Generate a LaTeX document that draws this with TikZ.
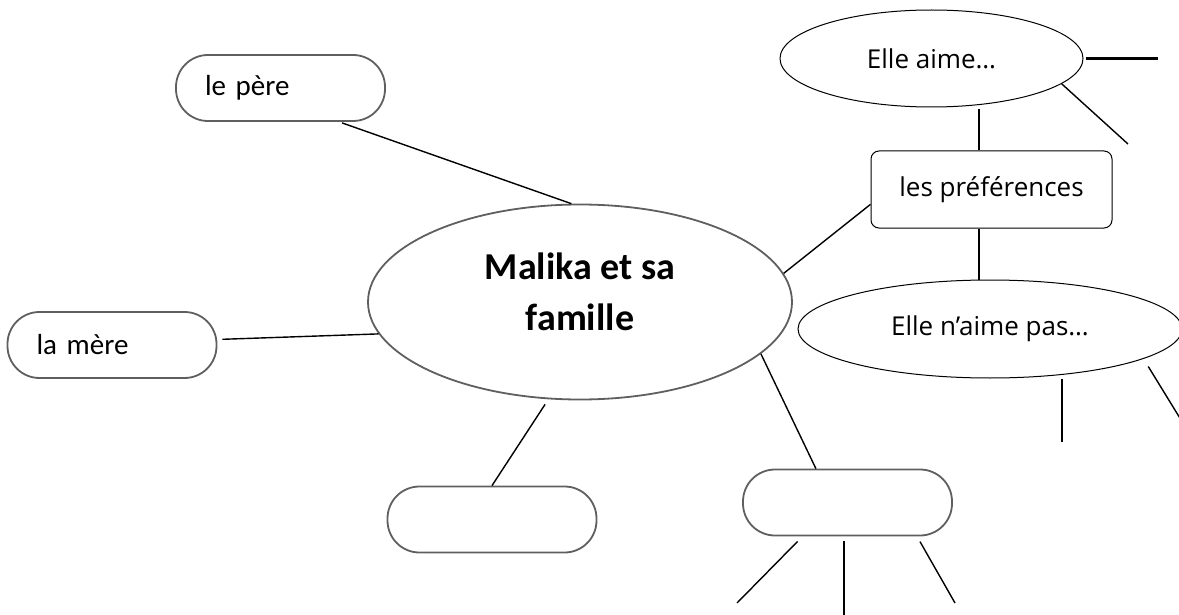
\documentclass[tikz,border=0pt]{standalone}
\usepackage{fontspec}
\setmainfont{Carlito}
\newfontfamily\prefsfont{Open Sans}
\usetikzlibrary{shapes.geometric}
\usetikzlibrary{calc}
\definecolor{rimgray}{HTML}{5F5F5F}

\begin{document}
\begin{tikzpicture}[x=1pt,y=-1pt,
    famillebox/.style={draw=rimgray,line width=1.8pt,rounded corners=32pt,minimum height=66pt,
        text width=151pt,inner xsep=29pt,align=left,font=\fontsize{29}{34}\selectfont},
    prefsshape/.style={draw=black,line width=1pt,font=\prefsfont\fontsize{26}{31}\selectfont},
    link/.style={line width=1.4pt},
    stub/.style={line width=2.6pt}]
    \useasboundingbox (0,0) rectangle (1179,615);

    \node[ellipse,draw=rimgray,line width=1.8pt,minimum width=424pt,minimum height=195pt,
        inner sep=0pt] (main) at (580,302) {};
    \node[align=center,font=\bfseries\fontsize{38}{51}\selectfont]
        (maintext) at ([yshift=10pt]main.center) {Malika et sa\\famille};

    \node[famillebox] (pere) at (280.5,88) {le père};
    \node[famillebox] (mere) at (112,345) {la mère};
    \node[famillebox] (blank1) at (492,519.5) {};
    \node[famillebox] (blank2) at (847.5,502.5) {};

    \node[prefsshape,ellipse,minimum width=303pt,minimum height=97pt] (aime) at (931.5,58.5) {Elle aime…};
    \node[prefsshape,rounded corners=8pt,minimum width=241pt,minimum height=77pt] (prefs) at (991.5,189.5) {les préférences};
    \node[prefsshape,ellipse,minimum width=384pt,minimum height=98pt] (naime) at (990,329) {Elle n’aime pas…};

    \coordinate (a1) at (1158,58.5);
    \coordinate (a2) at (1128,144);
    \coordinate (n1) at (1062,442);
    \coordinate (n2) at (1190,434.5);
    \coordinate (b1) at (737,603);
    \coordinate (b2) at (844,616);
    \coordinate (b3) at (955,603);

    \draw[link,shorten <=3pt] (pere.-30) -- (main.95);
    \draw[link,shorten <=5pt] (mere.3) -- (main.189);
    \draw[link,shorten >=6pt] (blank1.north) -- (main.-108);
    \draw[link] (main.8) -- (prefs.187);
    \draw[link] (main.-16) -- (blank2.133);
    \draw[link,shorten >=2pt] ([xshift=-12.5pt]prefs.north) -- ([xshift=-12.5pt]prefs.north |- aime.south);
    \draw[link] ([xshift=-12.5pt]prefs.south) -- ([xshift=-12.5pt]prefs.south |- naime.north);

    \draw[stub,shorten <=2pt] (aime.east) -- (a1);
    \draw[link] (aime.-11) -- (a2);
    \draw[stub] (n1 |- naime.south) -- (n1);
    \draw[link,shorten <=9pt] (naime.-11) -- (n2);
    \draw[link,shorten <=7pt] (blank2.217) -- (b1);
    \draw[stub,shorten <=5pt] (b2 |- blank2.south) -- (b2);
    \draw[link,shorten <=6pt] (blank2.-26) -- (b3);
\end{tikzpicture}
\end{document}
